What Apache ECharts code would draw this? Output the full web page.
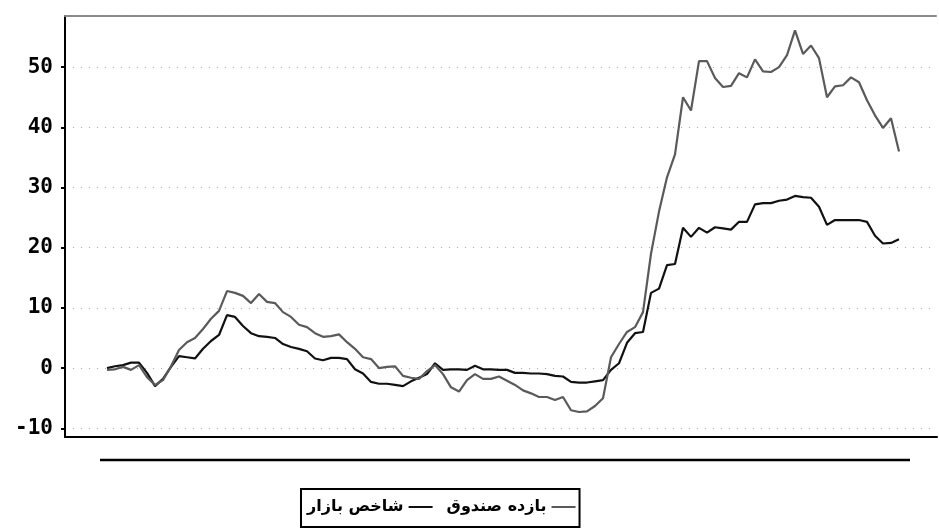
<!DOCTYPE html>
<html><head><meta charset="utf-8">
<script src="https://cdn.jsdelivr.net/npm/echarts@6/dist/echarts.min.js"></script>
<style>html,body{margin:0;padding:0;background:#fff}#c{width:939px;height:531px}</style>
</head><body><div id="c"></div>
<script>
// Y-axis tick labels
const yTicks = [-10, 0, 10, 20, 30, 40, 50];
// Legend names
const names = ['شاخص بازار', 'بازده صندوق'];
// Market index (black) values, one per sample
const market = [0, 0.3, 0.5, 0.9, 0.9, -0.8, -3.0, -1.8, 0.2, 2.0,
  1.8, 1.6, 3.2, 4.5, 5.5, 8.8, 8.5, 7.0, 5.8, 5.3,
  5.2, 5.0, 4.0, 3.5, 3.2, 2.8, 1.6, 1.3, 1.7, 1.7,
  1.5, -0.2, -0.9, -2.3, -2.6, -2.6, -2.8, -3.0, -2.2, -1.6,
  -1.0, 0.8, -0.3, -0.2, -0.2, -0.3, 0.4, -0.2, -0.2, -0.3,
  -0.3, -0.8, -0.8, -0.9, -0.9, -1.0, -1.3, -1.4, -2.3, -2.4,
  -2.4, -2.2, -2.0, -0.3, 0.8, 4.2, 5.8, 6.0, 12.5, 13.2,
  17.1, 17.3, 23.3, 21.8, 23.3, 22.5, 23.4, 23.2, 23.0, 24.3,
  24.3, 27.2, 27.4, 27.4, 27.8, 28.0, 28.6, 28.4, 28.3, 26.8,
  23.8, 24.6, 24.6, 24.6, 24.6, 24.3, 22.0, 20.7, 20.8, 21.4];
// Fund return (gray) values, one per sample
const fund = [-0.3, -0.2, 0.2, -0.3, 0.5, -1.5, -2.8, -2.0, 0.3, 3.0,
  4.3, 5.0, 6.5, 8.2, 9.5, 12.8, 12.5, 12.0, 10.8, 12.3,
  11.0, 10.8, 9.3, 8.5, 7.2, 6.8, 5.8, 5.2, 5.3, 5.6,
  4.3, 3.2, 1.8, 1.5, 0.0, 0.2, 0.3, -1.3, -1.6, -1.8,
  -0.5, 0.5, -1.0, -3.2, -3.9, -2.0, -1.0, -1.8, -1.8, -1.4,
  -2.1, -2.8, -3.7, -4.2, -4.8, -4.8, -5.3, -4.8, -7.0, -7.3,
  -7.2, -6.3, -5.0, 1.8, 4.0, 6.0, 6.8, 9.3, 19.0, 26.0,
  31.7, 35.5, 45.0, 42.8, 51.0, 51.0, 48.2, 46.7, 46.9, 49.0,
  48.3, 51.3, 49.3, 49.2, 50.0, 52.0, 56.1, 52.2, 53.6, 51.5,
  45.0, 46.8, 47.0, 48.3, 47.5, 44.5, 42.0, 39.9, 41.5, 36.0];

const toPairs = arr => arr.map((v, i) => [i, v]);
const chart = echarts.init(document.getElementById('c'), null, {renderer: 'canvas'});
chart.setOption({
  backgroundColor: '#fff',
  animation: false,
  grid: {left: 65, right: 2, top: 16, bottom: 94, containLabel: false},
  xAxis: [{
    type: 'value', min: -5.25, max: 103.75, position: 'bottom',
    axisLine: {show: true, onZero: false, lineStyle: {color: '#000', width: 2}},
    axisTick: {show: false}, axisLabel: {show: false}, splitLine: {show: false}
  }, {
    type: 'value', min: -5.25, max: 103.75, position: 'top',
    axisLine: {show: true, onZero: false, lineStyle: {color: '#8a8a8a', width: 2, type: [3, 1]}},
    axisTick: {show: false}, axisLabel: {show: false}, splitLine: {show: false}
  }],
  yAxis: {
    type: 'value', min: -11.45, max: 58.5,
    axisLine: {show: true, onZero: false, lineStyle: {color: '#000', width: 2}},
    axisTick: {show: true, length: 4, lineStyle: {color: '#000', width: 2},
      customValues: yTicks},
    axisLabel: {
      customValues: yTicks,
      color: '#000', fontFamily: 'DejaVu Sans Mono', fontWeight: 'bold', fontSize: 21, margin: 12
    },
    splitLine: {show: true, lineStyle: {color: '#a8a8a8', width: 1, type: [1, 7]}}
  },
  legend: {
    data: [names[0], names[1]],
    left: 301, top: 489, align: 'right', orient: 'horizontal',
    icon: 'rect', itemWidth: 24, itemHeight: 2, itemGap: 14,
    padding: [10, 4, 12, 6],
    borderColor: '#000', borderWidth: 2,
    textStyle: {fontFamily: 'DejaVu Sans', fontWeight: 'bold', fontSize: 16, color: '#000'}
  },
  graphic: [{
    type: 'line', shape: {x1: 100, y1: 460, x2: 910, y2: 460},
    style: {stroke: '#000', lineWidth: 2.5}
  }],
  series: [{
    name: names[0], type: 'line', data: toPairs(market), showSymbol: false,
    lineStyle: {color: '#111', width: 2.2}, itemStyle: {color: '#111'}
  }, {
    name: names[1], type: 'line', data: toPairs(fund), showSymbol: false,
    lineStyle: {color: '#5a5a5a', width: 2.2}, itemStyle: {color: '#5a5a5a'}
  }]
});
</script></body></html>
